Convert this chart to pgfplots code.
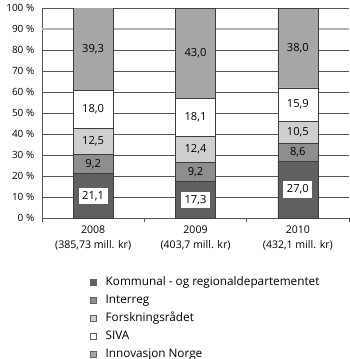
\documentclass[border=0pt]{standalone}
\usepackage{pgfplots}
\pgfplotsset{compat=1.18}
\usepackage{fontspec}
\setmainfont{Open Sans}
\newcommand{\tickfont}{\fontsize{10}{12}\selectfont}
\newcommand{\barfont}{\fontsize{11.2}{13}\selectfont}
\newcommand{\legfont}{\fontsize{11.8}{13}\selectfont}
\definecolor{cK}{HTML}{606060}
\definecolor{cI}{HTML}{8E8E8E}
\definecolor{cF}{HTML}{CFCFCF}
\definecolor{cS}{HTML}{FFFFFF}
\definecolor{cN}{HTML}{A6A6A7}
\definecolor{edge}{HTML}{3C3C3C}
\definecolor{gridc}{HTML}{555555}
\begin{document}
\begin{tikzpicture}
\useasboundingbox (-42bp,-141bp) rectangle (308bp,218bp);
\begin{axis}[
  at={(0,0)}, anchor=south west,
  width=307bp, height=210bp, scale only axis,
  ybar stacked, bar width=40bp,
  xmin=-0.5, xmax=2.5, ymin=0, ymax=100,
  xtick={0,1,2},
  xticklabels={{2008\\(385,73 mill. kr)},{2009\\(403,7 mill. kr)},{2010\\(432,1 mill. kr)}},
  xticklabel style={align=center, font=\fontsize{10.6}{15}\selectfont},
  minor xtick={-0.5,0.5,1.5,2.5},
  major x tick style={draw=none},
  minor x tick style={draw=gridc, line width=0.5bp},
  minor tick length=4bp,
  tick align=outside,
  ytick={0,10,...,100},
  ytick style={draw=none},
  yticklabel={\pgfmathprintnumber{\tick} \%},
  yticklabel style={font=\tickfont},
  /pgf/number format/assume math mode=true,
  ymajorgrids,
  grid style={draw=gridc, line width=0.5bp},
  extra y ticks={90},
  extra y tick labels={},
  extra y tick style={grid style={draw=black!30, line width=1.5bp}},
  axis x line*=bottom, axis y line*=left,
  axis line style={-, draw=gridc, line width=0.5bp},
  legend style={draw=none, fill=none, at={(axis description cs:0.155,-0.279)}, anchor=north west,
    inner sep=0pt, row sep=7bp, column sep=9.5bp,
    font=\legfont,
    nodes={inner sep=0pt, text height=8.5bp, text depth=2.5bp}},
  legend cell align=left,
  legend image code/.code={\draw[#1, draw=edge!80, line width=0.4bp] (0bp,-3bp) rectangle (6bp,3bp);},
]
\addplot[fill=cK, draw=edge, line width=0.6bp] coordinates {(0,21.1) (1,17.3) (2,27.0)};
\addplot[fill=cI, draw=edge, line width=0.6bp] coordinates {(0,9.2) (1,9.2) (2,8.6)};
\addplot[fill=cF, draw=edge, line width=0.6bp] coordinates {(0,12.5) (1,12.4) (2,10.5)};
\addplot[fill=cS, draw=edge, line width=0.6bp] coordinates {(0,18.0) (1,18.1) (2,15.9)};
\addplot[fill=cN, draw=edge, line width=0.6bp] coordinates {(0,39.3) (1,43.0) (2,38.0)};
\legend{Kommunal - og regionaldepartementet, Interreg, Forskningsrådet, SIVA, Innovasjon Norge}
\end{axis}
\begin{axis}[
  at={(0,0)}, anchor=south west,
  width=307bp, height=210bp, scale only axis,
  xmin=-0.5, xmax=2.5, ymin=0, ymax=100,
  hide axis, clip=false,
]
\addplot[draw=none, nodes near coords, point meta=explicit symbolic,
  nodes near coords style={anchor=center, font=\barfont, fill=white, inner xsep=3.5bp, inner ysep=3.5bp, text height=8bp, text depth=1.5bp}]
  coordinates {(0,10.55)[21,1] (1,8.65)[17,3] (2,13.5)[27,0] (0,51.8)[18,0] (1,47.95)[18,1] (2,54.05)[15,9]};
\addplot[draw=none, nodes near coords, point meta=explicit symbolic,
  nodes near coords style={anchor=center, font=\barfont}]
  coordinates {(0,25.7)[9,2] (1,21.9)[9,2] (2,31.3)[8,6] (0,36.55)[12,5] (1,32.7)[12,4] (2,40.85)[10,5] (0,80.6)[39,3] (1,78.5)[43,0] (2,81.05)[38,0]};
\end{axis}
\end{tikzpicture}
\end{document}
